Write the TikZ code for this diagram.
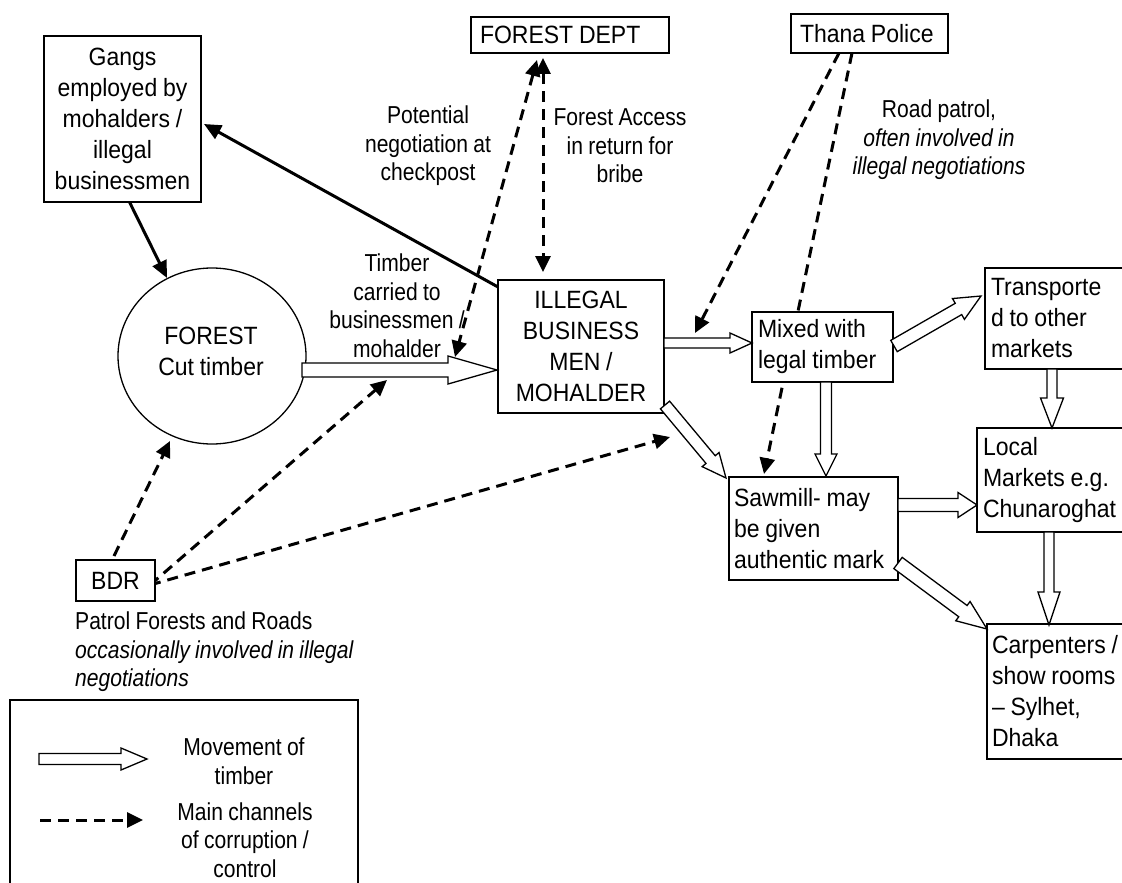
\documentclass[tikz,border=0pt]{standalone}
\usepackage{fontspec}
\setmainfont{Liberation Sans}[FakeStretch=0.92, WordSpace=0.9]
\newfontfamily\lblfont{Liberation Sans}[FakeStretch=0.86, WordSpace=0.9]
\usetikzlibrary{calc,arrows.meta,shapes.geometric}
\newcommand\blockarrow[5]{%
  \coordinate (ba-h) at ($(#2)!#5!(#1)$);
  \filldraw[hollow] ($(#1)!#3!90:(#2)$) -- ($(ba-h)!#3!90:(#2)$) -- ($(ba-h)!#4!90:(#2)$) -- (#2) -- ($(ba-h)!#4!-90:(#2)$) -- ($(ba-h)!#3!-90:(#2)$) -- ($(#1)!#3!-90:(#2)$) -- cycle;}
\tikzset{
  box/.style={draw, fill=white, line width=1.5pt, inner sep=0pt, align=center},
  lbox/.style={draw, fill=white, line width=1.5pt, inner ysep=0pt, inner xsep=6pt, align=left},
  hollow/.style={draw, fill=white, line width=1.3pt, line join=miter},
  corr/.style={line width=3pt, dash pattern=on 11pt off 7pt, -{Triangle[length=16pt,width=15pt]}},
  corrboth/.style={line width=3pt, dash pattern=on 11pt off 7pt, {Triangle[length=16pt,width=15pt]}-{Triangle[length=16pt,width=15pt]}},
  solidarr/.style={line width=3pt, -{Triangle[length=17pt,width=15pt]}},
  lbl/.style={align=center, inner sep=0pt, font=\lblfont\fontsize{24.5pt}{28.5pt}\selectfont},
}
\begin{document}
\begin{tikzpicture}[x=1pt, y=-1pt, every node/.style={font=\fontsize{25pt}{31pt}\selectfont, execute at begin node={\spaceskip=0pt\xspaceskip=0pt\relax}}]
\useasboundingbox (0,0) rectangle (1122,883);
\fill[white] (0,0) rectangle (1122,883);
\clip (0,0) rectangle (1122,883);

% dashed corruption channels (drawn first, boxes cover them)
\coordinate (d1a) at (543,58); \coordinate (d1b) at (543,272);
\draw[corrboth] (d1a) -- (d1b);
\coordinate (d2a) at (537,60); \coordinate (d2b) at (455,357);
\draw[corrboth] (d2a) -- (d2b);
\coordinate (d3a) at (839,53); \coordinate (d3b) at (695,333);
\draw[corr] (d3a) -- (d3b);
\coordinate (d4a) at (852,53); \coordinate (d4b) at (764,474);
\draw[corr] (d4a) -- (d4b);
\coordinate (d5a) at (114,556); \coordinate (d5b) at (170,441);
\draw[corr] (d5a) -- (d5b);
\coordinate (d6a) at (150,585); \coordinate (d6b) at (387,380);
\draw[corr] (d6a) -- (d6b);
\coordinate (d7a) at (150,585); \coordinate (d7b) at (670,437);
\draw[corr] (d7a) -- (d7b);

% solid arrows
\coordinate (ga1) at (127,197); \coordinate (ga2) at (167,278);
\draw[solidarr] (ga1) -- (ga2);
\coordinate (ig1) at (498,287); \coordinate (ig2) at (204,124);
\draw[solidarr] (ig1) -- (ig2);

% nodes
\node[box, minimum width=157pt, minimum height=166pt] (gangs) at (122.5,119) {Gangs\\employed by\\mohalders /\\illegal\\businessmen};
\node[box, minimum width=166pt, minimum height=133pt] (illegal) at (581,346.5) {ILLEGAL\\BUSINESS\\MEN /\\MOHALDER};
\node[lbox, inner xsep=9pt, text width=180pt, minimum height=36pt] (fdept) at (570,35) {FOREST DEPT};
\node[lbox, inner xsep=9pt, text width=139pt, minimum height=39pt] (thana) at (869.5,33.5) {Thana Police};
\node[box, minimum width=79pt, minimum height=41pt] (bdr) at (115.5,580.5) {BDR};
\node[lbox, text width=129pt, minimum height=70pt] (mixed) at (822.5,347) {\mbox{Mixed with}\\\mbox{legal timber}};
\node[lbox, inner xsep=5pt, text width=159pt, minimum height=103pt] (sawmill) at (813.5,528.5) {\mbox{Sawmill- may}\\\mbox{be given}\\\mbox{authentic mark}};
\node[lbox, text width=143pt, minimum height=101pt] (transp) at (1062.5,318.5) {\mbox{Transporte}\\\mbox{d to other}\\\mbox{markets}};
\node[lbox, text width=151pt, minimum height=104pt] (local) at (1058.5,480) {\mbox{Local}\\\mbox{Markets e.g.}\\\mbox{Chunaroghat}};
\node[lbox, inner xsep=5pt, text width=143pt, minimum height=135pt] (carp) at (1063.5,691.5) {\mbox{Carpenters /}\\\mbox{show rooms}\\\mbox{– Sylhet,}\\\mbox{Dhaka}};
\node[draw, line width=1.3pt, ellipse, minimum width=188pt, minimum height=176pt, inner sep=0pt] (forest) at (212,356) {};
\node[align=center, inner sep=0pt] (forestlbl) at (211,351) {FOREST\\Cut timber};
\node[box, fill=none, minimum width=348pt, minimum height=200pt] (legend) at (184,800) {};

% free labels
\node[lbl] (potential) at (428,146) {Potential\\negotiation at\\checkpost};
\node[lbl] (access) at (620,146) {Forest Access\\in return for\\bribe};
\node[lbl] (carried) at (397,305.5) {Timber\\carried to\\businessmen /\\mohalder};
\node[lbl] (roadpatrol) at (939,140) {Road patrol,\\\textit{often involved in}\\\textit{illegal negotiations}};
\node[lbl, align=left, anchor=west] (patrol) at (75,652) {Patrol Forests and Roads\\\textit{occasionally involved in illegal}\\\textit{negotiations}};
\node[lbl] (lmove) at (244,761) {Movement of\\timber};
\node[lbl] (lmain) at (245,840) {Main channels\\of corruption /\\control};

% timber movement (block arrows)
\coordinate (fa1) at (302,370); \coordinate (fa2) at (497,370);
\blockarrow{fa1}{fa2}{7pt}{14pt}{49pt}
\coordinate (im1) at (664,343); \coordinate (im2) at (752,343);
\blockarrow{im1}{im2}{5pt}{10pt}{22pt}
\coordinate (mt1) at (894,346); \coordinate (mt2) at (981,296);
\blockarrow{mt1}{mt2}{6.5pt}{12pt}{26pt}
\coordinate (ms1) at (826,382); \coordinate (ms2) at (826,476);
\blockarrow{ms1}{ms2}{5.5pt}{11pt}{22pt}
\coordinate (is1) at (665,405); \coordinate (is2) at (726,478);
\blockarrow{is1}{is2}{6pt}{11pt}{24pt}
\coordinate (sl1) at (898,505); \coordinate (sl2) at (977,505);
\blockarrow{sl1}{sl2}{6.5pt}{12.5pt}{19pt}
\coordinate (sc1) at (898,563); \coordinate (sc2) at (987,629);
\blockarrow{sc1}{sc2}{7pt}{12pt}{30pt}
\coordinate (tl1) at (1052,369); \coordinate (tl2) at (1052,428);
\blockarrow{tl1}{tl2}{5pt}{11.5pt}{30pt}
\coordinate (lc1) at (1049,532); \coordinate (lc2) at (1049,625);
\blockarrow{lc1}{lc2}{5pt}{11pt}{33pt}

% legend symbols
\coordinate (lg1) at (39,759); \coordinate (lg2) at (147,759);
\blockarrow{lg1}{lg2}{5.5pt}{11pt}{26pt}
\coordinate (ld1) at (40,820); \coordinate (ld2) at (143,820);
\draw[corr] (ld1) -- (ld2);
\end{tikzpicture}
\end{document}
